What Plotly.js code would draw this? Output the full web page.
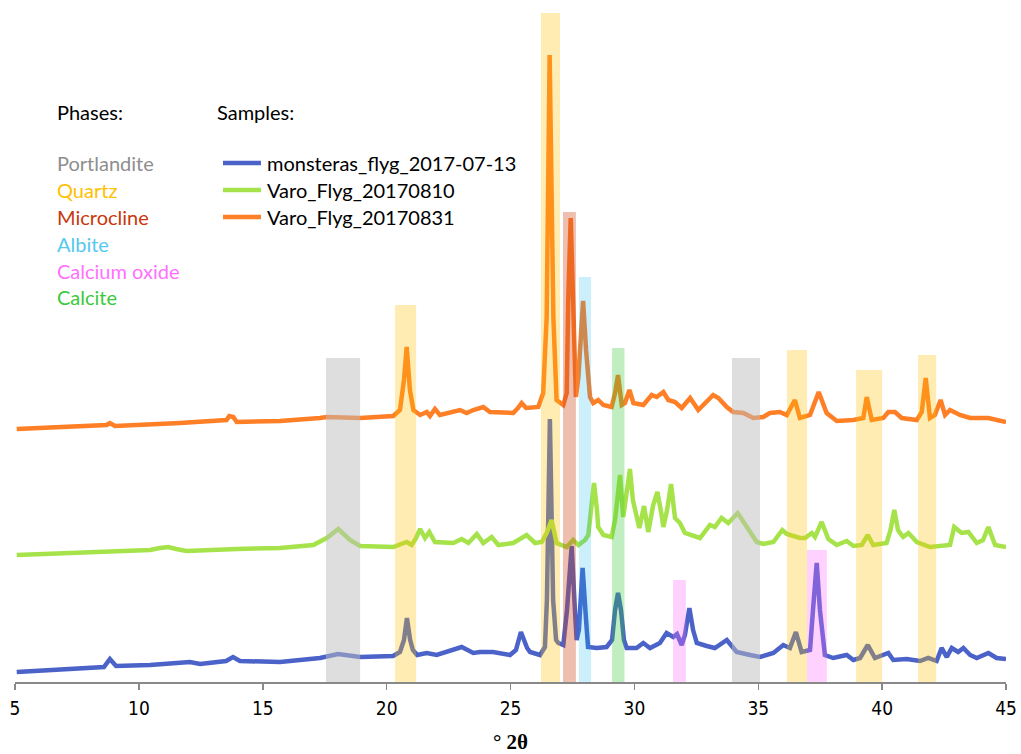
<!DOCTYPE html>
<html>
<head>
<meta charset="utf-8">
<script src="https://cdn.plot.ly/plotly-3.0.1.min.js"></script>
<style>html,body{margin:0;padding:0;background:#fff;}#chart{width:1021px;height:754px;}</style>
</head>
<body>
<div id="chart"></div>
<script>
// ---- Sample names ----
const sampleNames = ["monsteras_flyg_2017-07-13", "Varo_Flyg_20170810", "Varo_Flyg_20170831"];

// ---- monsteras_flyg_2017-07-13 (offset intensity, arbitrary units) ----
const xBlue = [5.07,8.43,8.59,8.83,9.08,10.45,12.06,12.47,13.52,13.80,14.08,15.70,17.31,18.04,18.93,20.26,20.54,20.70,20.82,20.95,21.06,21.23,21.62,22.02,22.42,23.03,23.50,23.77,24.29,24.98,25.22,25.42,25.67,25.79,26.19,26.39,26.47,26.59,26.72,26.84,26.93,27.13,27.28,27.47,27.60,27.67,27.76,27.91,28.05,28.13,28.48,28.88,29.10,29.22,29.34,29.46,29.58,29.69,30.09,30.36,30.63,31.03,31.30,31.57,31.72,31.91,32.04,32.22,32.37,32.52,32.92,33.25,33.73,34.13,34.67,35.07,35.61,36.01,36.28,36.52,36.75,37.09,37.21,37.36,37.49,37.69,38.03,38.57,38.84,39.11,39.42,39.71,40.25,40.45,40.99,41.53,41.86,42.20,42.40,42.61,42.81,43.07,43.28,43.55,43.82,44.29,44.62,45.0];
const yBlue = [10,14,15,23,16,17,20,18,21,25,21,20,24,28,25,26,30,42,64,42,32,27,29,27,30,35,29,30,30,27,32,50,34,30,27,35,82,263,82,42,39,37,72,136,72,42,52,114,62,35,34,35,42,72,89,72,42,34,34,39,34,39,49,45,48,37,47,74,52,39,36,34,42,30,27,25,29,37,34,50,30,32,72,119,72,27,24,27,22,24,37,24,29,22,23,21,24,21,34,25,34,30,34,27,24,29,24,23];

// ---- Varo_Flyg_20170810 ----
const xGreen = [5.07,8.83,10.45,10.85,11.19,11.50,11.93,13.95,15.70,17.04,17.58,18.05,18.52,18.93,20.27,20.81,21.01,21.19,21.35,21.55,21.72,21.95,22.69,23.03,23.30,23.64,23.90,24.24,24.51,25.11,25.65,25.99,26.26,26.46,26.66,26.86,27.27,27.53,27.74,28.01,28.14,28.25,28.37,28.49,28.54,28.75,29.08,29.22,29.42,29.55,29.66,29.82,29.94,30.09,30.20,30.39,30.56,30.76,30.93,31.10,31.17,31.32,31.48,31.64,31.84,32.04,32.31,32.65,33.05,33.25,33.52,33.79,34.17,34.53,34.94,35.20,35.61,35.97,36.15,36.68,36.89,37.16,37.29,37.56,37.83,38.17,38.57,38.84,39.18,39.42,39.64,40.18,40.34,40.49,40.64,40.72,40.85,41.06,41.40,41.93,42.74,42.91,43.21,43.48,43.82,44.07,44.29,44.56,45.0];
const yGreen = [127,130,132,134,135,133,131,133,134,137,144,153,142,136,135,140,137,144,153,144,150,140,139,143,139,148,139,145,137,139,147,139,140,149,162,139,135,142,137,142,147,172,199,172,155,147,145,162,207,165,182,213,182,165,154,176,150,177,190,167,155,172,198,164,159,149,147,144,157,155,164,159,169,155,140,138,140,152,148,144,144,149,145,160,143,137,141,136,137,147,137,139,152,172,152,149,145,149,140,135,137,155,149,150,139,142,155,137,135];

// ---- Varo_Flyg_20170831 ----
const xOrange = [5.07,8.70,8.83,9.04,11.66,13.54,13.65,13.81,13.95,15.70,17.31,17.58,18.93,20.27,20.54,20.70,20.81,20.94,21.08,21.35,21.62,21.75,21.95,22.15,22.96,23.23,23.50,23.90,24.17,24.44,25.11,25.30,25.45,25.63,25.79,26.12,26.32,26.46,26.58,26.73,26.86,27.13,27.27,27.33,27.43,27.53,27.64,27.74,27.93,28.05,28.21,28.34,28.54,28.75,29.08,29.22,29.34,29.49,29.62,29.80,29.96,30.36,30.70,30.90,31.17,31.37,31.64,31.91,32.25,32.58,32.92,33.18,33.39,33.73,33.99,34.40,34.80,35.20,35.47,35.87,36.15,36.48,36.68,37.09,37.44,37.76,38.17,38.84,39.24,39.38,39.58,40.05,40.25,40.52,40.79,41.40,41.60,41.76,41.93,42.13,42.36,42.54,42.74,43.14,43.55,44.29,45.0];
const yOrange = [253,257,259,256,259,262,266,265,260,261,264,265,264,266,272,302,335,292,272,267,270,266,273,267,272,269,272,275,270,270,269,274,279,274,274,275,289,365,627,365,282,277,289,382,464,382,285,305,381,332,285,279,282,277,275,289,307,277,279,292,279,277,287,285,290,282,280,274,284,272,280,287,284,275,270,269,264,265,269,270,267,282,264,267,290,269,261,262,264,285,262,264,270,270,264,262,270,304,264,267,282,267,272,267,264,264,260];

// ---- Phase markers (2θ ranges and band heights) ----
const phaseNames = ["Portlandite", "Quartz", "Microcline", "Albite", "Calcium oxide", "Calcite"];
const bandPhase = ["Portlandite","Portlandite","Quartz","Quartz","Quartz","Quartz","Quartz","Microcline","Albite","Calcite","Calcium oxide","Calcium oxide"];
const bandStart = [17.55,33.94,20.34,26.23,36.16,38.95,41.45,27.12,27.76,29.10,31.56,36.97];
const bandEnd   = [18.93,35.07,21.19,27.00,36.97,40.00,42.18,27.64,28.25,29.60,32.08,37.77];
const bandTop   = [324,324,377,669,332,312,327,470,405,334,102,132];

// ---- styles ----
const seriesColors = ["#4B63C9", "#A6E34B", "#FF7F27"];
const phaseTextColors = {"Portlandite":"#8E8E8E","Quartz":"#FFC000","Microcline":"#C8380A","Albite":"#55C8F0","Calcium oxide":"#FF70FF","Calcite":"#3CC83C"};
const phaseFillColors = {"Portlandite":"rgba(190,190,190,0.5)","Quartz":"rgba(255,192,0,0.3)","Microcline":"rgba(205,70,25,0.35)","Albite":"rgba(0,176,240,0.2)","Calcite":"rgba(50,200,50,0.3)","Calcium oxide":"rgba(255,102,255,0.3)"};

const xs = [xBlue, xGreen, xOrange];
const ys = [yBlue, yGreen, yOrange];
const traces = xs.map((x, i) => ({
  type: "scatter", mode: "lines", x: x, y: ys[i], name: sampleNames[i],
  line: {color: seriesColors[i], width: 4.5, shape: "linear"}, showlegend: false, hoverinfo: "x+y"
}));

const shapes = bandPhase.map((p, i) => ({
  type: "rect", xref: "x", yref: "y", x0: bandStart[i], x1: bandEnd[i], y0: 0, y1: bandTop[i],
  fillcolor: phaseFillColors[p], line: {width: 0}, layer: "above"
}));

const txtFont = {family: "Lato, 'Open Sans', sans-serif", size: 20, color: "#000"};
const annotations = [];
annotations.push({xref: "paper", yref: "paper", x: 0.0404, y: 0.851, xanchor: "left", yanchor: "middle", showarrow: false, text: "Phases:", font: txtFont});
annotations.push({xref: "paper", yref: "paper", x: 0.2018, y: 0.851, xanchor: "left", yanchor: "middle", showarrow: false, text: "Samples:", font: txtFont});
const phaseY = [0.7746, 0.7343, 0.6940, 0.6537, 0.6134, 0.5746];
phaseNames.forEach((p, i) => {
  annotations.push({xref: "paper", yref: "paper", x: 0.0404, y: phaseY[i], xanchor: "left", yanchor: "middle", showarrow: false, text: p,
    font: Object.assign({}, txtFont, {color: phaseTextColors[p]})});
});
sampleNames.forEach((s, i) => {
  annotations.push({xref: "paper", yref: "paper", x: 0.2523, y: phaseY[i], xanchor: "left", yanchor: "middle", showarrow: false, text: s, font: txtFont});
  shapes.push({type: "line", xref: "paper", yref: "paper", x0: 0.2099, x1: 0.2482, y0: phaseY[i], y1: phaseY[i],
    line: {color: seriesColors[i], width: 4.5}});
});

const layout = {
  width: 1021, height: 754,
  margin: {l: 15, r: 15, t: 12, b: 72},
  paper_bgcolor: "#fff", plot_bgcolor: "#fff",
  showlegend: false,
  xaxis: {
    range: [5, 45], tickmode: "linear", tick0: 5, dtick: 5,
    showgrid: false, zeroline: false, showline: true, linecolor: "#898989", linewidth: 1.5,
    ticks: "outside", ticklen: 6, tickcolor: "#898989", tickwidth: 1.5,
    tickfont: {family: "'DejaVu Sans Condensed', 'DejaVu Sans', sans-serif", size: 19, color: "#000"},
    ticklabelstandoff: 3,
    title: {text: "<b>° 2θ</b>", font: {family: "'Liberation Serif', serif", size: 21, color: "#000"}, standoff: 17}
  },
  yaxis: {range: [0, 670], visible: false, showgrid: false, zeroline: false},
  shapes: shapes,
  annotations: annotations
};

Plotly.newPlot("chart", traces, layout, {displayModeBar: false, staticPlot: true});
</script>
</body>
</html>
